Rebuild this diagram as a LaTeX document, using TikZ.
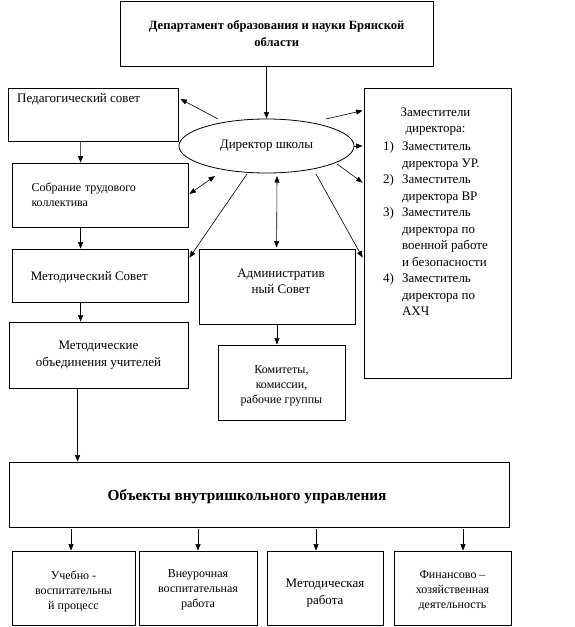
\documentclass[tikz,border=0pt]{standalone}
\usepackage{fontspec}
\setmainfont{Liberation Serif}
\usetikzlibrary{arrows.meta,shapes.geometric,calc}
\begin{document}
\begin{tikzpicture}[x=1pt,y=-1pt,
  box/.style={draw, line width=0.8pt, inner sep=0pt, align=center},
  arr/.style={line width=0.6pt, -{Triangle[length=6.5pt,width=5pt]}},
  darr/.style={line width=0.6pt, {Triangle[length=6.5pt,width=5pt]}-{Triangle[length=6.5pt,width=5pt]}},
  main/.style={font=\fontsize{13}{16.5}\selectfont},
  small/.style={font=\fontsize{12}{15}\selectfont},
]
\useasboundingbox (0,0) rectangle (575,627);
\fill[white] (0,0) rectangle (575,627);

\node[box, minimum width=312.7pt, minimum height=64.7pt, font=\fontsize{12.6}{17}\selectfont\bfseries] (dept) at (276.7,33.7) {Департамент образования и науки Брянской\\области};
\node[box, minimum width=169.7pt, minimum height=53pt,
  label={[anchor=north west, inner sep=0pt, main, xshift=9pt, yshift=-6pt]north west:Педагогический совет}] (ped) at (93.2,114.5) {};
\node[draw, ellipse, line width=0.8pt, minimum width=175pt, minimum height=54pt, inner sep=0pt, main] (dir) at (266.5,146) {Директор школы};
\node[box, minimum width=147pt, minimum height=290pt,
  label={[anchor=north, inner sep=0pt, main, xshift=-2pt, yshift=-17pt]north:{\begin{tabular}{@{}l@{\hspace{8pt}}l@{}}
  \multicolumn{2}{c}{Заместители}\\
  \multicolumn{2}{c}{директора:}\\[1.5pt]
  1) & Заместитель\\
     & директора УР.\\
  2) & Заместитель\\
     & директора ВР\\
  3) & Заместитель\\
     & директора по\\
     & военной работе\\
     & и безопасности\\
  4) & Заместитель\\
     & директора по\\
     & АХЧ
  \end{tabular}}}] (zam) at (437.5,233) {};
\node[box, minimum width=176pt, minimum height=64pt, align=left, text width=157pt, inner xsep=0pt, small] (sob) at (100,195) {\hspace*{10pt}\parbox[t]{150pt}{\raggedright Собрание трудового\\коллектива}};
\node[box, minimum width=176pt, minimum height=53pt, main,
  label={[anchor=west, inner sep=0pt, main, xshift=19pt, yshift=-2pt]west:Методический Совет}] (msov) at (100,275.5) {};
\node[box, minimum width=156pt, minimum height=75pt, main,
  label={[anchor=center, inner sep=0pt, main, align=center, xshift=4pt, yshift=5pt]center:Административ\\ный Совет}] (adm) at (277,286.5) {};
\node[box, minimum width=127pt, minimum height=75pt, small,
  label={[anchor=center, inner sep=0pt, small, align=center, yshift=-3.5pt]center:Комитеты,\\комиссии,\\рабочие группы}] (kom) at (281.5,382.5) {};
\node[box, minimum width=179pt, minimum height=66pt, main] (mob) at (98.5,355) {Методические\\объединения учителей};
\node[box, minimum width=500pt, minimum height=65pt,
  label={[anchor=center, inner sep=0pt, font=\fontsize{15.3}{19}\selectfont\bfseries, xshift=-12pt, yshift=-2pt]center:Объекты внутришкольного управления}] (obj) at (259,494.5) {};
\node[box, minimum width=123pt, minimum height=74pt, small,
  label={[anchor=center, inner sep=0pt, small, align=center, yshift=-3pt]center:Учебно -\\воспитательны\\й процесс}] (b1) at (73.5,588) {};
\node[box, minimum width=118pt, minimum height=74pt, small,
  label={[anchor=center, inner sep=0pt, small, align=center, yshift=-2pt]center:Внеурочная\\воспитательная\\работа}] (b2) at (198,588) {};
\node[box, minimum width=116pt, minimum height=74pt, main,
  label={[anchor=center, inner sep=0pt, main, align=center, yshift=-5pt]center:Методическая\\работа}] (b3) at (325,588) {};
\node[box, minimum width=117pt, minimum height=74pt, small,
  label={[anchor=center, inner sep=0pt, small, align=center, yshift=-3pt]center:Финансово –\\хозяйственная\\деятельность}] (b4) at (452.5,588) {};

% connectors
\draw[arr] (dir.north |- dept.south) -- (dir.north);
\draw[arr] ($(dir.center)+(-48.5,-27)$) -- ($(ped.east)+(2,-15.5)$);
\draw[arr] ($(dir.center)+(59.5,-27)$) -- ($(zam.north west)+(-1,23)$);
\draw[arr] (dir.east) -- ($(zam.west |- dir.east)+(-1,0)$);
\draw[arr] ($(dir.center)+(70.5,18)$) -- ($(zam.north west)+(-1,95)$);
\draw[arr] ($(dir.center)+(49.5,28)$) -- ($(zam.north west)+(-1,170)$);
\draw[arr] ($(ped.south west)+(72.7,0)$) -- ($(sob.north west)+(69,0)$);
\draw[darr] ($(sob.east)+(1,-1)$) -- ($(dir.center)+(-51.5,30)$);
\draw[arr] ($(dir.center)+(-19.5,28)$) -- ($(msov.north east)+(1,9)$);
\draw[darr] ($(dir.center)+(10.5,30)$) -- ($(adm.north west)+(78,-1)$);
\draw[arr] ($(sob.south west)+(69,0)$) -- ($(msov.north west)+(69,0)$);
\draw[arr] ($(msov.south west)+(69,0)$) -- ($(mob.north west)+(72,0)$);
\draw[arr] (adm.south -| kom.north) ++(-4.5,0) -- ($(kom.north)+(-4.5,0)$);
\draw[arr] ($(mob.south west)+(69,0)$) -- ($(obj.north west)+(69,0)$);
\draw[arr] (b1.north |- obj.south) ++(-2.5,2) -- ($(b1.north)+(-2.5,0)$);
\draw[arr] (b2.north |- obj.south) ++(0,2) -- (b2.north);
\draw[arr] (b3.north |- obj.south) ++(-9,2) -- ($(b3.north)+(-9,0)$);
\draw[arr] (b4.north |- obj.south) ++(10.5,2) -- ($(b4.north)+(10.5,0)$);
\end{tikzpicture}
\end{document}
